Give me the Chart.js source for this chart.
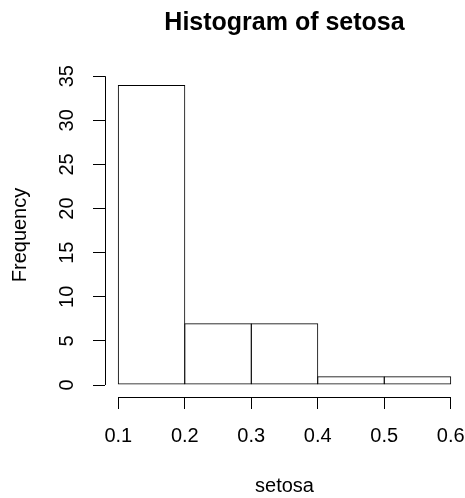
<!DOCTYPE html>
<html>
<head>
<meta charset="utf-8">
<script src="https://cdn.jsdelivr.net/npm/chart.js@4"></script>
<style>
  html, body { margin: 0; padding: 0; background: #fff; }
  #wrap { width: 465px; height: 498px; }
</style>
</head>
<body>
<div id="wrap"><canvas id="histChart"></canvas></div>
<script>
// histogram of setosa (bins of 0.1)
const binEdges = [0.1, 0.2, 0.3, 0.4, 0.5, 0.6];
const counts = [34, 7, 7, 1, 1];
const xTicks = [0.1, 0.2, 0.3, 0.4, 0.5, 0.6];
const yTicks = [0, 5, 10, 15, 20, 25, 30, 35];

const bars = counts.map((c, i) => ({ x: (binEdges[i] + binEdges[i + 1]) / 2, y: c }));

Chart.defaults.font.family = '"Liberation Sans", Arial, sans-serif';
Chart.defaults.color = '#000';

// R style axes: line only between first and last tick
const rAxes = {
    id: 'rAxes',
    afterDraw(chart) {
        const ctx = chart.ctx;
        const xs = chart.scales.x;
        const ys = chart.scales.y;
        ctx.save();
        ctx.strokeStyle = '#000';
        ctx.lineWidth = 1;
        ctx.beginPath();
        const ax = Math.round(ys.right) + 0.5;
        ctx.moveTo(ax, ys.getPixelForValue(yTicks[0]));
        ctx.lineTo(ax, ys.getPixelForValue(yTicks[yTicks.length - 1]));
        const ay = Math.round(xs.top) + 0.5;
        ctx.moveTo(xs.getPixelForValue(xTicks[0]), ay);
        ctx.lineTo(xs.getPixelForValue(xTicks[xTicks.length - 1]), ay);
        ctx.stroke();
        ctx.restore();
    }
};

const ctx = document.getElementById('histChart').getContext('2d');
const histChart = new Chart(ctx, {
    type: 'bar',
    data: {
        datasets: [{
            data: bars,
            backgroundColor: 'rgba(255,255,255,0)',
            borderColor: '#000',
            borderWidth: 1,
            borderSkipped: false,
            barPercentage: 1.015, // lets neighbouring borders share one pixel
            categoryPercentage: 1
        }]
    },
    options: {
        responsive: true,
        maintainAspectRatio: false,
        animation: false,
        layout: { padding: { top: 0, right: 1, bottom: 0, left: 0 } },
        plugins: {
            legend: { display: false },
            tooltip: { enabled: false },
            title: {
                display: true,
                text: 'Histogram of setosa',
                fullSize: false,
                font: { size: 25, weight: 'bold' },
                color: '#000',
                padding: { top: 8.5, bottom: 34.5 }
            }
        },
        scales: {
            x: {
                type: 'linear',
                min: 0.08,
                max: 0.62,
                offset: false,
                afterBuildTicks: s => { s.ticks = xTicks.map(v => ({ value: v })); },
                afterFit: s => { s.height = 101; s.paddingLeft = 0; s.paddingRight = 0; },
                border: { display: false },
                grid: { offset: false, drawOnChartArea: false, drawTicks: true, tickLength: 12, color: '#000' },
                ticks: {
                    autoSkip: false, maxRotation: 0, padding: 15,
                    font: { size: 20 },
                    callback: v => String(v)
                },
                title: { display: true, text: 'setosa', font: { size: 20 }, padding: { top: 0, bottom: 0 } }
            },
            y: {
                min: -1.36,
                max: 35.36,
                afterBuildTicks: s => { s.ticks = yTicks.map(v => ({ value: v })); },
                afterFit: s => { s.width = 105; s.paddingTop = 0; s.paddingBottom = 0; },
                border: { display: false },
                grid: { drawOnChartArea: false, drawTicks: true, tickLength: 12, color: '#000' },
                ticks: {
                    autoSkip: false, minRotation: 90, maxRotation: 90,
                    crossAlign: 'center', padding: 14,
                    font: { size: 20 }
                },
                title: { display: true, text: 'Frequency', font: { size: 20 }, padding: { top: 8, bottom: 0 } }
            }
        }
    },
    plugins: [rAxes]
});
</script>
</body>
</html>
